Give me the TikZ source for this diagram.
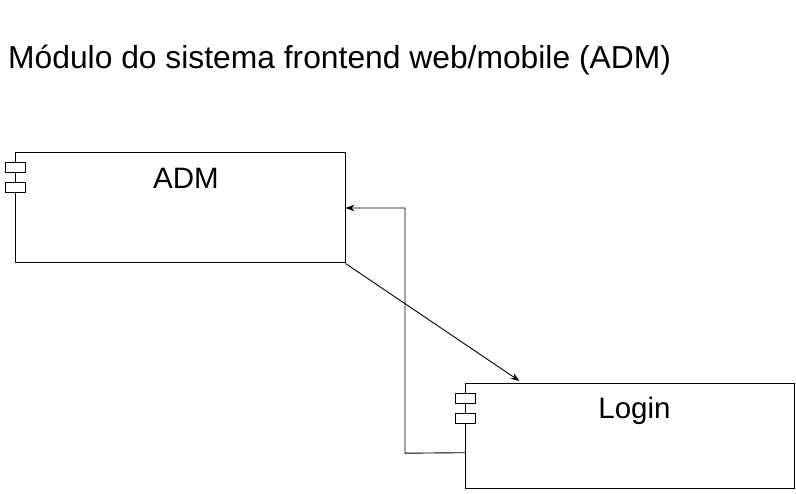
\documentclass[tikz,border=0pt]{standalone}
\usepackage{fontspec}
\setmainfont{Liberation Sans}
\usetikzlibrary{arrows.meta,calc}
\begin{document}
\begin{tikzpicture}[x=1pt,y=-1pt,
  compbox/.style={draw=black, line width=1pt, fill=white, rectangle, inner sep=0pt},
  iconbox/.style={draw=black, line width=1pt, fill=white, rectangle, inner sep=0pt, minimum width=20pt, minimum height=10pt},
  conn/.style={draw=black, line width=0.9pt, -{Stealth[length=9pt,width=6.5pt]}},
  lbl/.style={inner sep=0pt, font=\fontsize{29.5}{34}\selectfont}]
\useasboundingbox (0,0) rectangle (796,494);
\fill[white] (0,0) rectangle (796,494);
\node[inner sep=0pt, anchor=base west, font=\fontsize{31.8}{36}\selectfont] (title) at (8,68.3) {Módulo do sistema frontend web/mobile (ADM)};
% ADM component
\node[compbox, minimum width=330pt, minimum height=110pt] (adm) at (180,208) {};
\node[iconbox] (admi1) at (15,168) {};
\node[iconbox] (admi2) at (15,188) {};
\node[lbl, anchor=base] (admlbl) at (186,188.3) {ADM};
% Login component
\node[compbox, minimum width=329pt, minimum height=105pt] (login) at (630,435.7) {};
\node[iconbox] (logi1) at (465.5,398.3) {};
\node[iconbox] (logi2) at (465.5,418.3) {};
\node[lbl, anchor=base] (loglbl) at (634.5,418.3) {Login};
% connectors
\coordinate (lt) at (519.5,381);
\coordinate (ls) at ($(login.north west)+(0,70)$);
\draw[conn] (adm.south east) -- (lt);
\draw[conn] (ls) -- (405,453.2) |- (adm.east);
\end{tikzpicture}
\end{document}
